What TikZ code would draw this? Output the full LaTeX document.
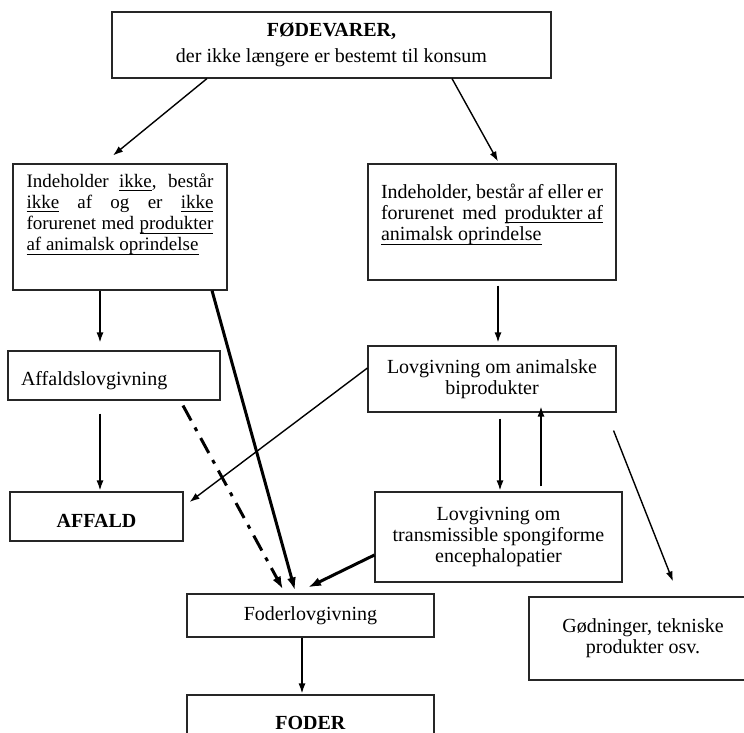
\documentclass[tikz,border=0pt]{standalone}
\usepackage{fontspec}
\setmainfont{Liberation Serif}
\usetikzlibrary{arrows.meta,calc}
\newcommand{\uword}[1]{\setbox0\hbox{#1}\rlap{\rule[-4pt]{\wd0}{1.1pt}}\box0\relax}

\begin{document}
\begin{tikzpicture}[x=1pt, y=-1pt, >={Latex[length=10pt,width=7pt]}, line width=1.4pt,
    box/.style={draw=black!85, line width=1.1pt, inner sep=0pt, align=center,
        font=\fontsize{20}{21.3}\selectfont},
    heavy/.style={line width=3pt, >={Latex[length=13pt,width=9pt]}}]
    \useasboundingbox (0,0) rectangle (744,733);
    \clip (0,0) rectangle (744,733);

    % Boxes
    \node[box, minimum width=439pt, minimum height=66pt] (fode) at (331.5,45)
        {\textbf{FØDEVARER,}\\[5pt] der ikke længere er bestemt til konsum};
    \node[box, minimum width=214pt, minimum height=126pt] (ikke) at (120,227)
        {\parbox[c][126pt][t]{187pt}{\fontsize{19}{21.3}\selectfont
        \rule{0pt}{23pt}Indeholder \uword{ikke}, består\linebreak
        \uword{ikke} af og er \uword{ikke}\linebreak
        forurenet med \uword{produkter}\linebreak
        \uword{af animalsk oprindelse}}};
    \node[box, minimum width=248pt, minimum height=116pt] (med) at (492,222)
        {\parbox[c][116pt][t]{222pt}{\rule{0pt}{34pt}Indeholder, består af eller er\linebreak
        forurenet med \uword{produkter af}\linebreak
        \uword{animalsk oprindelse}}};
    \node[box, minimum width=212pt, minimum height=49pt, text width=186pt, align=left,
        text height=19pt, text depth=0pt] (afflov) at (114,375.5) {Affaldslovgivning};
    \node[box, minimum width=248pt, minimum height=66pt] (anim) at (492,379)
        {Lovgivning om animalske\\ biprodukter};
    \node[box, minimum width=173pt, minimum height=49pt, text height=21pt, text depth=0pt]
        (affald) at (96.5,516.5) {\textbf{AFFALD}};
    \node[box, minimum width=247pt, minimum height=90pt] (tse) at (498.5,537)
        {Lovgivning om\\ transmissible spongiforme\\ encephalopatier};
    \node[box, minimum width=247pt, minimum height=43pt] (foderlov) at (310.5,615.5)
        {Foderlovgivning};
    \node[box, minimum width=247pt, minimum height=55pt] (foder) at (310.5,722.5)
        {\textbf{FODER}};
    \node[box, minimum width=228pt, minimum height=83pt] (goed) at (643,638.5)
        {Gødninger, tekniske\\ produkter osv.};

    % Arrows
    \draw[->] ($(fode.south)+(-124.5,0)$) -- ($(ikke.north)+(-7,-8)$);
    \draw[->] ($(fode.south)+(120.5,0)$) -- ($(med.north)+(6,-2)$);
    \draw[->] ($(ikke.south)+(-20,0)$) -- ($(afflov.north)+(-14,-8)$);
    \draw[->] ($(afflov.south)+(-14,13)$) -- ($(affald.north)+(3.5,-1)$);
    \draw[->] ($(med.south)+(6,5)$) -- ($(anim.north)+(6,-3)$);
    \draw[->] ($(anim.south)+(8,6)$) -- ($(tse.north)+(1.5,-1)$);
    \draw[->] ($(tse.north)+(42.5,-5)$) -- ($(anim.south)+(49,-6)$);
    \draw[->] ($(anim.west)+(0,-11)$) -- ($(affald.east)+(6,-14.5)$);
    \draw[->] ($(anim.south east)+(-3,18)$) -- ($(goed.north)+(30,-15)$);
    \draw[->] ($(foderlov.south)+(-8.5,0)$) -- ($(foder.north)+(-8.5,-1)$);

    % Heavy arrows into Foderlovgivning
    \draw[->, heavy] ($(ikke.south)+(92,0)$) -- ($(foderlov.north)+(-15.5,-3)$);
    \draw[->, heavy, dash pattern=on 17pt off 8pt on 4pt off 8pt]
        ($(afflov.south)+(69,5)$) -- ($(foderlov.north)+(-27.5,-4)$);
    \draw[->, heavy] ($(tse.west)+(0,18)$) -- ($(foderlov.north)+(-2.5,-6)$);
\end{tikzpicture}
\end{document}
